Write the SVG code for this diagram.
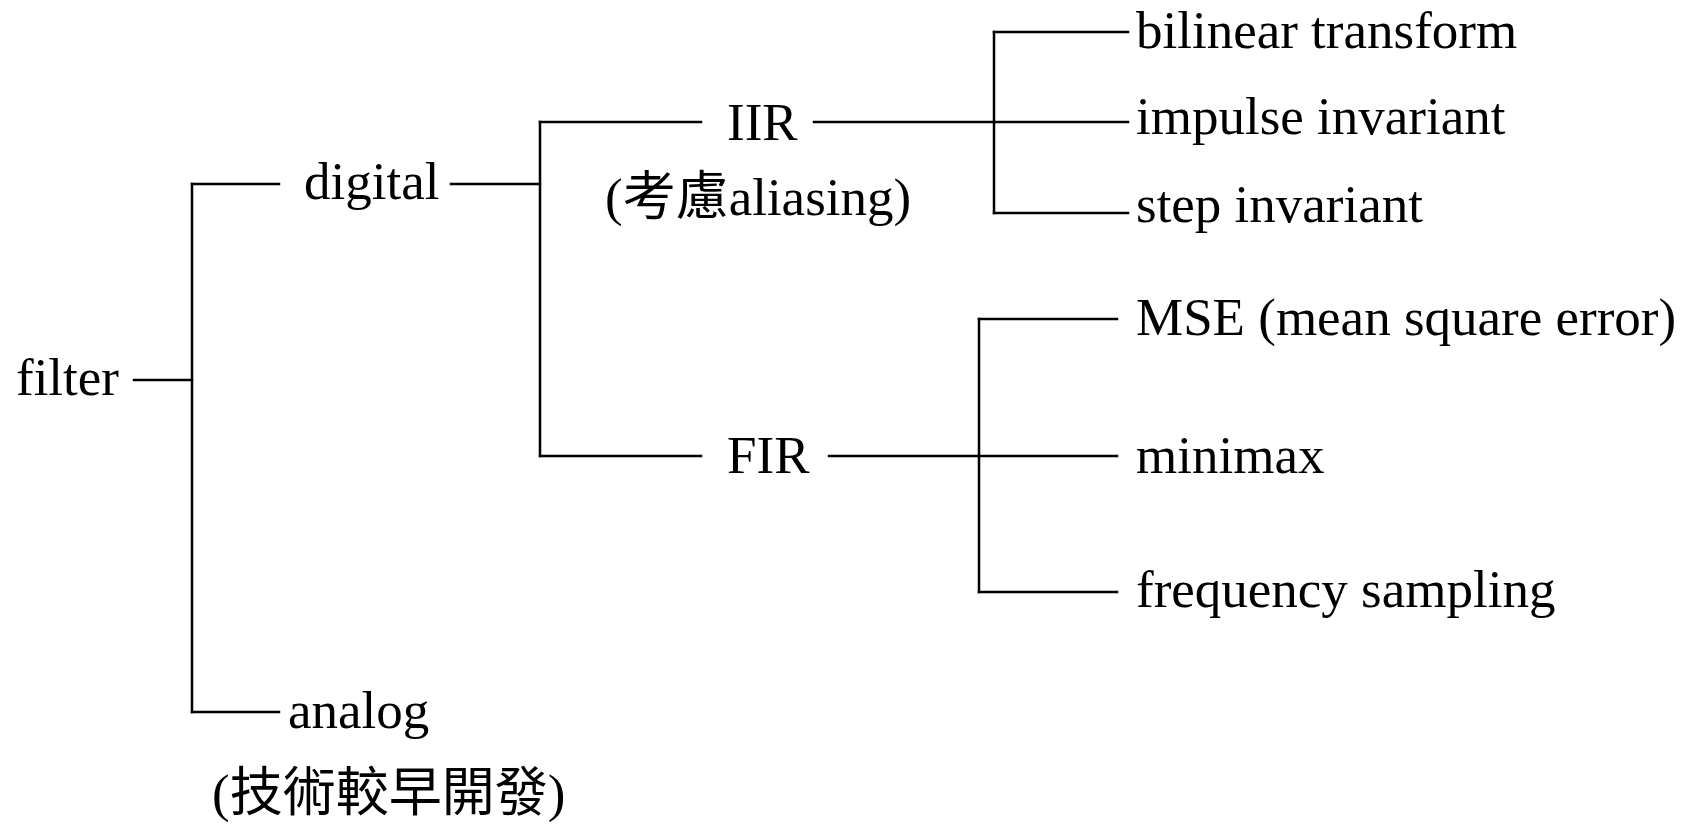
<svg xmlns="http://www.w3.org/2000/svg" width="1684" height="831" viewBox="0 0 1684 831">
<style>
text { font-family: "Liberation Serif", "Noto Sans CJK TC", serif; font-size: 53px; fill: #000; }
.c line { stroke: #000; stroke-width: 2.5; stroke-linecap: square; }
</style>
<rect width="1684" height="831" fill="#fff"/>
<g id="connectors" class="c">
<line x1="134" y1="380" x2="192" y2="380"/>
<line x1="192" y1="184" x2="192" y2="712"/>
<line x1="192" y1="184" x2="279" y2="184"/>
<line x1="192" y1="712" x2="279" y2="712"/>
<line x1="451" y1="184" x2="540" y2="184"/>
<line x1="540" y1="122" x2="540" y2="456"/>
<line x1="540" y1="122" x2="701" y2="122"/>
<line x1="540" y1="456" x2="701" y2="456"/>
<line x1="814" y1="122" x2="1128" y2="122"/>
<line x1="994" y1="32" x2="994" y2="213"/>
<line x1="994" y1="32" x2="1128" y2="32"/>
<line x1="994" y1="213" x2="1128" y2="213"/>
<line x1="829" y1="456" x2="1117" y2="456"/>
<line x1="979" y1="319" x2="979" y2="592"/>
<line x1="979" y1="319" x2="1117" y2="319"/>
<line x1="979" y1="592" x2="1117" y2="592"/>
</g>
<g id="filter"><text x="16" y="395">filter</text></g>
<g id="digital"><text x="304" y="199">digital</text></g>
<g id="analog"><text x="288" y="728">analog</text><text x="212" y="811">(技術較早開發)</text></g>
<g id="iir"><text x="727" y="140">IIR</text><text x="605" y="215">(考慮aliasing)</text></g>
<g id="fir"><text x="727" y="473">FIR</text></g>
<g id="bilinear"><text x="1136" y="48">bilinear transform</text></g>
<g id="impulse"><text x="1136" y="134">impulse invariant</text></g>
<g id="step"><text x="1136" y="222">step invariant</text></g>
<g id="mse"><text x="1136" y="335">MSE (mean square error)</text></g>
<g id="minimax"><text x="1136" y="473">minimax</text></g>
<g id="freq"><text x="1136" y="607">frequency sampling</text></g>
</svg>
